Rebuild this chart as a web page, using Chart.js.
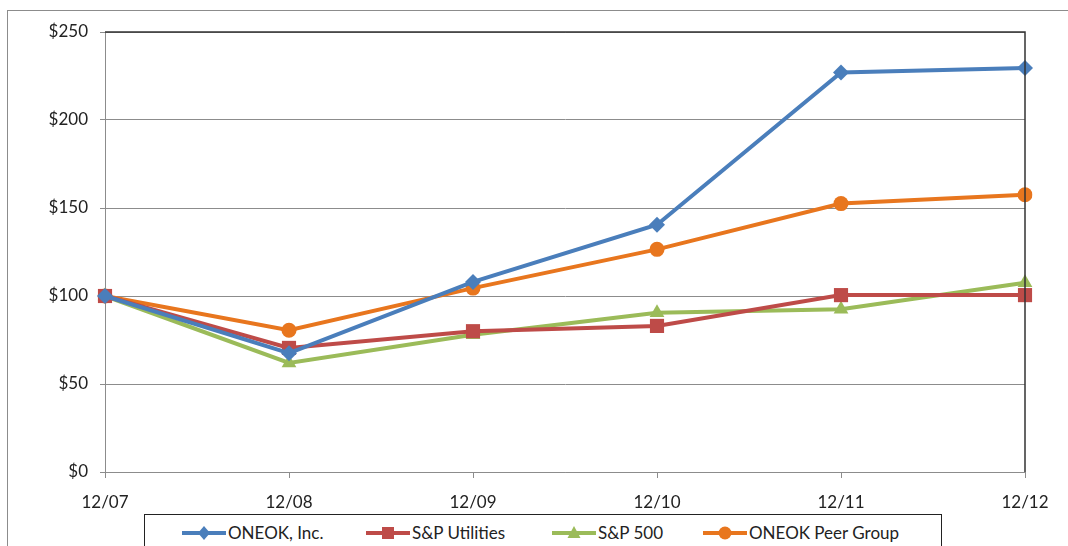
<!DOCTYPE html>
<html>
<head>
<meta charset="utf-8">
<script src="https://cdn.jsdelivr.net/npm/chart.js@4.4.1/dist/chart.umd.min.js"></script>
<style>
  body { margin: 0; background: #fff; font-family: Lato, "Open Sans", sans-serif; }
  #wrap { position: relative; width: 1068px; height: 546px; overflow: hidden; }
  #frame { position: absolute; left: 7px; top: 10px; width: 1100px; height: 600px; border: 1px solid #8c8c8c; pointer-events: none; }
  #legend {
    position: absolute; left: 144px; top: 514px; width: 798px; height: 60px;
    border: 1.5px solid #222; background: #fff; box-sizing: border-box;
    font-size: 17px; color: #222;
  }
  .item { position: absolute; top: 7px; display: flex; align-items: center; white-space: nowrap; }
  .item svg { margin-right: 2px; }
</style>
</head>
<body>
<div id="wrap">
  <canvas id="chart" width="1068" height="546"></canvas>
  <div id="frame"></div>
  <div id="legend"></div>
</div>
<script>
const labels = ["12/07", "12/08", "12/09", "12/10", "12/11", "12/12"];
const oneok = [100, 67.5, 108, 140.5, 227, 229.5];
const spUtilities = [100, 70.5, 80, 83, 100.5, 100.5];
const sp500 = [100, 62, 78, 90.5, 92.5, 107.5];
const peerGroup = [100, 80.5, 104.5, 126.5, 152.5, 157.5];
const yTicks = [0, 50, 100, 150, 200, 250];

const series = [
  { name: "ONEOK, Inc.", data: oneok, color: "#4a7ebb", marker: "rectRot", r: 8, legendLeft: 37 },
  { name: "S&P Utilities", data: spUtilities, color: "#be4b48", marker: "rect", r: 10, legendLeft: 221 },
  { name: "S&P 500", data: sp500, color: "#9bbb59", marker: "triangle", r: 8.5, legendLeft: 407 },
  { name: "ONEOK Peer Group", data: peerGroup, color: "#e8761e", marker: "circle", r: 7.5, legendLeft: 558 }
];

// border on top and right of the plot area
const plotBorder = {
  id: "plotBorder",
  afterDraw(chart) {
    const { ctx, chartArea: a } = chart;
    ctx.save();
    ctx.strokeStyle = "#333";
    ctx.lineWidth = 1.5;
    ctx.beginPath();
    ctx.moveTo(a.left, a.top);
    ctx.lineTo(a.right, a.top);
    ctx.lineTo(a.right, a.bottom);
    ctx.stroke();
    ctx.restore();
  }
};

new Chart(document.getElementById("chart"), {
  type: "line",
  data: {
    labels: labels,
    datasets: series.map(s => ({
      label: s.name,
      data: s.data,
      borderColor: s.color,
      backgroundColor: s.color,
      borderWidth: 4,
      pointStyle: s.marker,
      pointRadius: s.r,
      pointBorderWidth: 0,
      tension: 0
    }))
  },
  options: {
    responsive: false,
    animation: false,
    layout: { padding: { left: 0, top: 32, right: 43, bottom: 34 } },
    plugins: { legend: { display: false }, tooltip: { enabled: false } },
    scales: {
      x: {
        offset: false,
        border: { color: "#8c8c8c", width: 1 },
        grid: { drawOnChartArea: false, drawTicks: true, tickLength: 6, color: "#8c8c8c" },
        ticks: { color: "#222", font: { family: "Lato", size: 17 }, padding: 14, maxRotation: 0 },
        afterFit: s => { s.height = 40; }
      },
      y: {
        min: 0, max: 250,
        border: { color: "#8c8c8c", width: 1 },
        grid: { color: "#8c8c8c", tickLength: 5 },
        afterBuildTicks: s => { s.ticks = yTicks.map(v => ({ value: v })); },
        ticks: { color: "#222", font: { family: "Lato", size: 17 }, padding: 12, callback: v => "$" + v },
        afterFit: s => { s.width = 105; }
      }
    }
  },
  plugins: [plotBorder]
});

// legend: line with marker, then the name
function markerSvg(s) {
  const c = s.color;
  let m = "";
  if (s.marker === "rectRot") m = `<polygon points="22,1 28,8 22,15 16,8" fill="${c}"/>`;
  else if (s.marker === "rect") m = `<rect x="16" y="2" width="12" height="12" fill="${c}"/>`;
  else if (s.marker === "triangle") m = `<polygon points="22,1 28.5,13 15.5,13" fill="${c}"/>`;
  else m = `<circle cx="22" cy="8" r="6.5" fill="${c}"/>`;
  return `<svg width="44" height="16"><line x1="0" y1="8" x2="44" y2="8" stroke="${c}" stroke-width="4"/>${m}</svg>`;
}
const legendEl = document.getElementById("legend");
series.forEach(s => {
  legendEl.insertAdjacentHTML("beforeend",
    `<div class="item" style="left:${s.legendLeft}px">${markerSvg(s)}<span>${s.name}</span></div>`);
});
</script>
</body>
</html>
